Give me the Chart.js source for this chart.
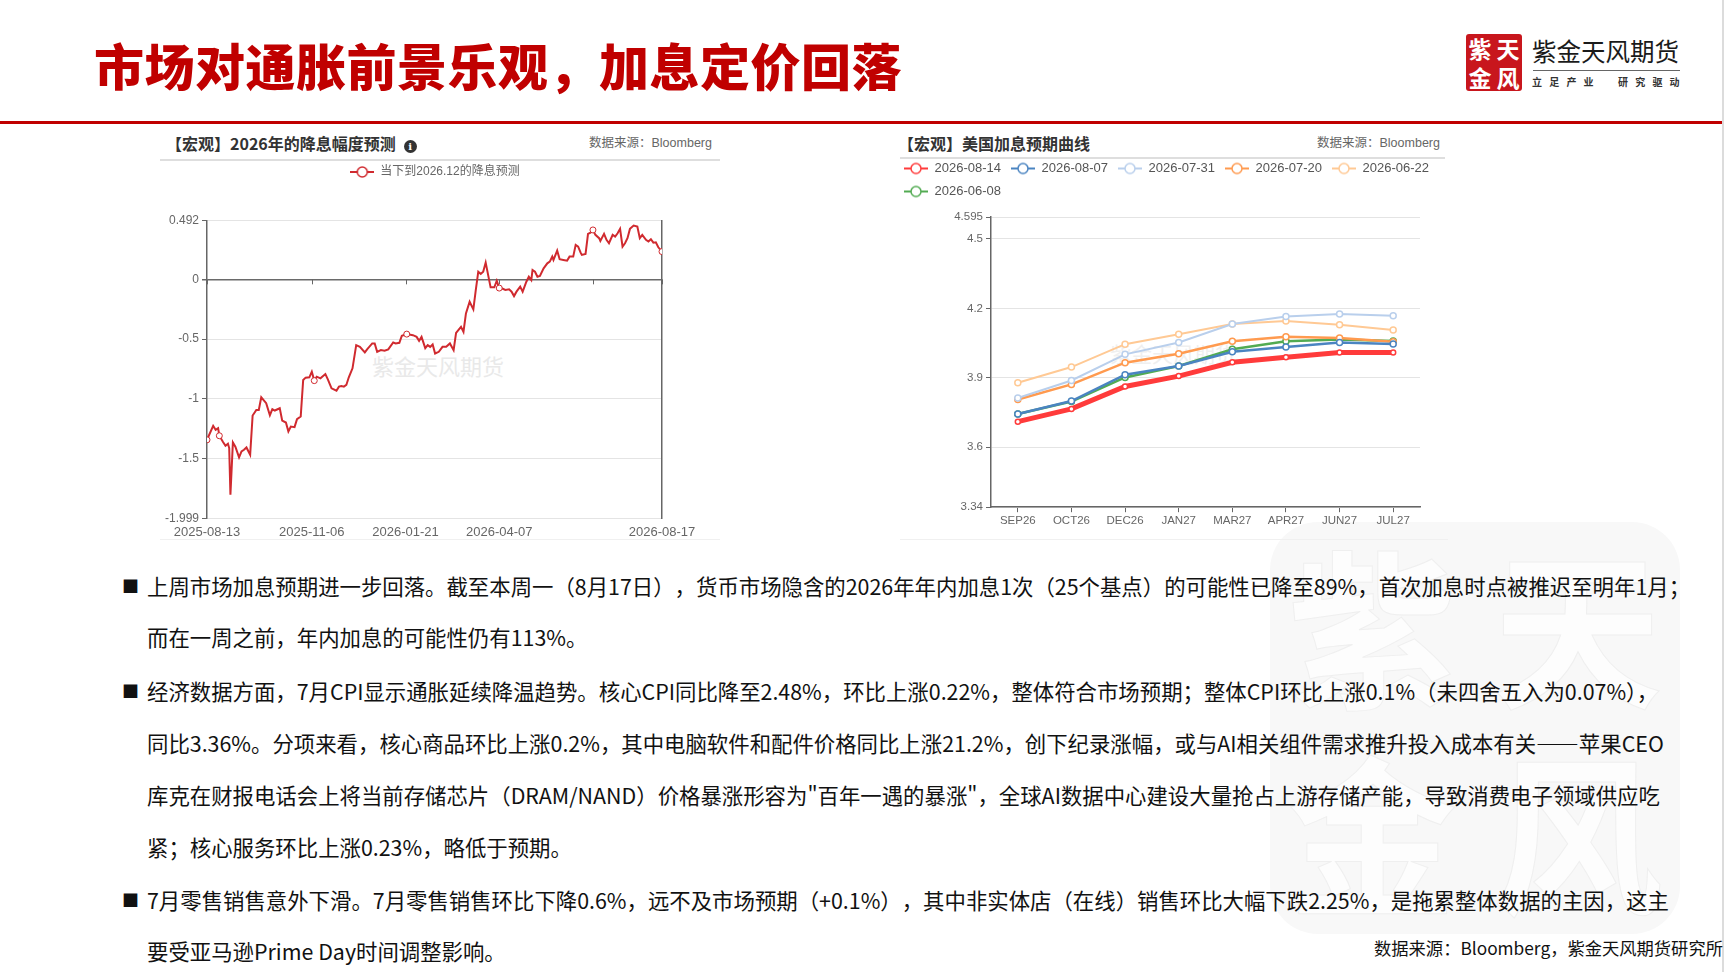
<!DOCTYPE html>
<html lang="zh-CN">
<head>
<meta charset="UTF-8">
<title>市场对通胀前景乐观，加息定价回落</title>
<script src="https://cdn.jsdelivr.net/npm/chart.js"></script>
<style>
  html, body { margin: 0; padding: 0; background: #fff; }
  body { width: 1726px; height: 972px; position: relative; overflow: hidden;
         font-family: "Noto Sans CJK SC", sans-serif; }
  .abs { position: absolute; white-space: nowrap; }
  .title { left: 94px; top: 34px; font-size: 50px; line-height: 60px; font-weight: 900;
           color: #c00000; letter-spacing: 0.5px; }
  .rule { left: 0; top: 120.5px; width: 1722px; height: 3px; background: #c00000; }
  .edge { left: 1722px; top: 0; width: 2px; height: 972px; background: #dcdcdc; }
  .seal { left: 1466px; top: 34px; width: 56px; height: 57px; background: #c8161d; border-radius: 3px;
          display: grid; grid-template-columns: 1fr 1fr; color: #fff; font-size: 23px; line-height: 28px;
          text-align: center; font-weight: 700; }
  .brand { left: 1532px; top: 36px; font-size: 24.5px; line-height: 30px; color: #1a1a1a; }
  .brand-line { left: 1533px; top: 70px; width: 147px; height: 1px; background: #666; }
  .tagline { left: 1532px; top: 74.5px; font-size: 10px; line-height: 14px; letter-spacing: 7.2px;
             color: #333; font-weight: 700; }
  .head { font-size: 16px; line-height: 20px; font-weight: 700; color: #333; }
  .src { font-size: 12.5px; line-height: 20px; color: #666; font-family: "Liberation Sans", "Noto Sans CJK SC", sans-serif; }
  .info { display: inline-block; width: 13px; height: 13px; border-radius: 50%; background: #333; color: #fff;
          font-size: 10px; line-height: 13px; text-align: center; margin-left: 8px; vertical-align: 0px;
          font-family: "DejaVu Serif", serif; font-weight: 700; }
  .hline { height: 2px; background: #dedede; }
  .card-foot { height: 1px; background: #f0f0f0; }
  .wm { color: #e9e9e9; }
  .bigseal { left: 1270px; top: 522px; width: 410px; height: 412px; background: #f8f8f8; border-radius: 48px;
             display: grid; grid-template-columns: 1fr 1fr; color: #fdfdfd; font-size: 170px; line-height: 200px;
             text-align: center; font-weight: 700; -webkit-text-stroke: 1px #efefef; }
  .txt { font-size: 21.4px; line-height: 30px; color: #111; text-spacing-trim: space-all; }
  .txt.trim { text-spacing-trim: normal; }
  .bullet { font-size: 17px; line-height: 30px; color: #111; }
  .foot { left: 1374px; top: 935px; font-size: 17.3px; line-height: 26px; color: #111; }
  canvas { position: absolute; }
</style>
</head>
<body>
  <div class="abs bigseal"><span>紫</span><span>天</span><span>金</span><span>风</span></div>

  <div class="abs title">市场对通胀前景乐观，加息定价回落</div>
  <div class="abs seal"><span>紫</span><span>天</span><span>金</span><span>风</span></div>
  <div class="abs brand">紫金天风期货</div>
  <div class="abs brand-line"></div>
  <div class="abs tagline">立足产业　研究驱动</div>
  <div class="abs rule"></div>
  <div class="abs edge"></div>

  <!-- left chart header -->
  <div class="abs head" style="left:166px; top:133px;">【宏观】2026年的降息幅度预测<span class="info">i</span></div>
  <div class="abs src" style="left:589px; top:133px;">数据来源：Bloomberg</div>
  <div class="abs hline" style="left:160px; top:159px; width:560px;"></div>
  <div class="abs card-foot" style="left:160px; top:539px; width:560px;"></div>
  <div class="abs wm" style="left:372px; top:351px; font-size:22px; line-height:28px;">紫金天风期货</div>

  <!-- right chart header -->
  <div class="abs head" style="left:898px; top:132.5px;">【宏观】美国加息预期曲线</div>
  <div class="abs src" style="left:1317px; top:133px;">数据来源：Bloomberg</div>
  <div class="abs hline" style="left:900px; top:157px; width:545px;"></div>
  <div class="abs card-foot" style="left:900px; top:539px; width:548px;"></div>
  <div class="abs wm" style="left:1110px; top:339px; font-size:21px; line-height:28px; color:#efefef;">紫金天风期货</div>

  <canvas id="cutChart" width="570" height="402" style="left:150px; top:156px;"></canvas>
  <canvas id="curveChart" width="566" height="386" style="left:894px; top:152px;"></canvas>

  <!-- commentary -->
  <div class="abs bullet" style="left:122px; top:570.5px;">■</div>
  <div class="abs txt" style="left:147px; top:570.5px;">上周市场加息预期进一步回落。截至本周一（8月17日），货币市场隐含的2026年年内加息1次（25个基点）的可能性已降至89%，首次加息时点被推迟至明年1月；</div>
  <div class="abs txt" style="left:147px; top:622px;">而在一周之前，年内加息的可能性仍有113%。</div>
  <div class="abs bullet" style="left:122px; top:675.5px;">■</div>
  <div class="abs txt trim" style="left:147px; top:675.5px;">经济数据方面，7月CPI显示通胀延续降温趋势。核心CPI同比降至2.48%，环比上涨0.22%，整体符合市场预期；整体CPI环比上涨0.1%（未四舍五入为0.07%），</div>
  <div class="abs txt" style="left:147px; top:727.5px;">同比3.36%。分项来看，核心商品环比上涨0.2%，其中电脑软件和配件价格同比上涨21.2%，创下纪录涨幅，或与AI相关组件需求推升投入成本有关——苹果CEO</div>
  <div class="abs txt" style="left:147px; top:780px;">库克在财报电话会上将当前存储芯片（DRAM/NAND）价格暴涨形容为"百年一遇的暴涨"，全球AI数据中心建设大量抢占上游存储产能，导致消费电子领域供应吃</div>
  <div class="abs txt" style="left:147px; top:832px;">紧；核心服务环比上涨0.23%，略低于预期。</div>
  <div class="abs bullet" style="left:122px; top:884.5px;">■</div>
  <div class="abs txt" style="left:147px; top:884.5px;">7月零售销售意外下滑。7月零售销售环比下降0.6%，远不及市场预期（+0.1%），其中非实体店（在线）销售环比大幅下跌2.25%，是拖累整体数据的主因，这主</div>
  <div class="abs txt" style="left:147px; top:936px;">要受亚马逊Prime Day时间调整影响。</div>
  <div class="abs foot">数据来源：Bloomberg，紫金天风期货研究所</div>

<script>
// ---- left chart: implied 2026 cuts ----
const cutDates = [
  '2025-08-13','2025-08-18','2025-08-20','2025-08-22','2025-08-23','2025-08-26','2025-08-28','2025-08-30',
  '2025-08-31','2025-09-01','2025-09-03','2025-09-05','2025-09-08','2025-09-10','2025-09-12','2025-09-14',
  '2025-09-17','2025-09-19','2025-09-22','2025-09-24','2025-09-26','2025-09-30','2025-10-03','2025-10-05',
  '2025-10-07','2025-10-11','2025-10-13','2025-10-16','2025-10-18','2025-10-20','2025-10-23','2025-10-25',
  '2025-10-28','2025-10-30','2025-11-01','2025-11-04','2025-11-06','2025-11-08','2025-11-10','2025-11-13',
  '2025-11-17','2025-11-19','2025-11-22','2025-11-26','2025-11-28','2025-11-30','2025-12-02','2025-12-04',
  '2025-12-06','2025-12-09','2025-12-12','2025-12-15','2025-12-19','2025-12-21','2025-12-25','2025-12-27',
  '2025-12-29','2026-01-01','2026-01-04','2026-01-07','2026-01-11','2026-01-13','2026-01-16','2026-01-18',
  '2026-01-22','2026-01-27','2026-01-30','2026-02-01','2026-02-03','2026-02-06','2026-02-08','2026-02-10',
  '2026-02-12','2026-02-14','2026-02-17','2026-02-20','2026-02-23','2026-02-26','2026-03-01','2026-03-03',
  '2026-03-07','2026-03-09','2026-03-11','2026-03-14','2026-03-17','2026-03-19','2026-03-21','2026-03-23',
  '2026-03-25','2026-03-27','2026-03-31','2026-04-03','2026-04-05','2026-04-07','2026-04-09','2026-04-12',
  '2026-04-15','2026-04-17','2026-04-19','2026-04-21','2026-04-24','2026-04-26','2026-04-29','2026-05-01',
  '2026-05-03','2026-05-04','2026-05-06','2026-05-08','2026-05-10','2026-05-13','2026-05-16','2026-05-18',
  '2026-05-20','2026-05-21','2026-05-24','2026-05-26','2026-05-29','2026-06-01','2026-06-03','2026-06-06',
  '2026-06-08','2026-06-10','2026-06-12','2026-06-13','2026-06-16','2026-06-18','2026-06-20','2026-06-22',
  '2026-06-24','2026-06-27','2026-06-28','2026-07-01','2026-07-03','2026-07-05','2026-07-08','2026-07-10',
  '2026-07-12','2026-07-14','2026-07-16','2026-07-18','2026-07-20','2026-07-22','2026-07-25','2026-07-28',
  '2026-07-30','2026-08-01','2026-08-04','2026-08-06','2026-08-08','2026-08-10','2026-08-12','2026-08-14',
  '2026-08-17'
];
const cutValues = [
  -1.342,-1.225,-1.258,-1.244,-1.308,-1.36,-1.392,-1.375,
  -1.411,-1.80,-1.364,-1.40,-1.489,-1.439,-1.425,-1.406,
  -1.467,-1.139,-1.092,-1.092,-0.986,-1.036,-1.136,-1.086,
  -1.097,-1.078,-1.181,-1.197,-1.272,-1.231,-1.236,-1.169,
  -1.147,-0.842,-0.822,-0.819,-0.772,-0.847,-0.814,-0.828,
  -0.792,-0.836,-0.911,-0.931,-0.897,-0.892,-0.897,-0.883,
  -0.819,-0.744,-0.55,-0.564,-0.611,-0.583,-0.536,-0.536,
  -0.606,-0.592,-0.597,-0.586,-0.528,-0.536,-0.531,-0.472,
  -0.458,-0.467,-0.481,-0.514,-0.481,-0.575,-0.55,-0.565,
  -0.545,-0.62,-0.606,-0.564,-0.564,-0.536,-0.592,-0.447,
  -0.397,-0.439,-0.285,-0.187,-0.251,-0.089,0.064,0.045,
  0.064,0.14,-0.067,-0.067,-0.011,-0.073,-0.075,-0.089,
  -0.084,-0.103,-0.14,-0.103,-0.061,-0.103,-0.02,0.022,
  -0.006,0.078,0.064,0.022,0.028,0.092,0.134,0.148,
  0.19,0.162,0.24,0.168,0.162,0.156,0.19,0.19,
  0.288,0.274,0.223,0.204,0.212,0.38,0.391,0.413,
  0.372,0.344,0.321,0.38,0.33,0.302,0.372,0.358,
  0.385,0.422,0.274,0.302,0.344,0.422,0.45,0.441,
  0.344,0.372,0.33,0.316,0.335,0.307,0.31,0.268,
  0.232
];
const cutMarkerDates = ['2025-08-13','2025-08-23','2025-11-08','2026-01-22','2026-04-07','2026-06-22','2026-08-17'];
const cutTickDates = ['2025-08-13','2025-11-06','2026-01-21','2026-04-07','2026-06-22','2026-08-17'];
const cutUnlabelled = ['2026-06-22'];
const cutYTicks = [-1.999, -1.5, -1, -0.5, 0, 0.492];
const cutLabel = '当下到2026.12的降息预测';

// ---- right chart: implied policy rate path ----
const tenors = ['SEP26','OCT26','DEC26','JAN27','MAR27','APR27','JUN27','JUL27'];
const curveNames = ['2026-08-14','2026-08-07','2026-07-31','2026-07-20','2026-06-22','2026-06-08'];
const curve0814 = [3.710, 3.765, 3.862, 3.907, 3.967, 3.988, 4.009, 4.009];
const curve0807 = [3.743, 3.799, 3.913, 3.951, 4.012, 4.033, 4.052, 4.046];
const curve0731 = [3.812, 3.888, 4.001, 4.052, 4.132, 4.165, 4.175, 4.168];
const curve0720 = [3.806, 3.871, 3.965, 4.004, 4.058, 4.077, 4.072, 4.055];
const curve0622 = [3.878, 3.946, 4.045, 4.088, 4.132, 4.145, 4.129, 4.106];
const curve0608 = [3.743, 3.797, 3.901, 3.951, 4.023, 4.058, 4.065, 4.059];
const curveYTicks = [3.34, 3.6, 3.9, 4.2, 4.5, 4.595];

Chart.defaults.font.family = "'Liberation Sans', 'Noto Sans CJK SC', sans-serif";
Chart.defaults.color = '#666';

const DAY = 86400000;
const t0 = Date.parse(cutDates[0]);
const dayOf = d => Math.round((Date.parse(d) - t0) / DAY);
const dateOf = v => new Date(t0 + v * DAY).toISOString().slice(0, 10);

function legendIcon(color, r) {
  const c = document.createElement('canvas');
  c.width = 24; c.height = 14;
  const g = c.getContext('2d');
  g.strokeStyle = color;
  g.lineWidth = 2;
  g.beginPath(); g.moveTo(0, 7); g.lineTo(24, 7); g.stroke();
  g.beginPath(); g.arc(12, 7, r, 0, Math.PI * 2);
  g.fillStyle = '#fff'; g.fill();
  g.lineWidth = 1.5; g.stroke();
  return c;
}

function iconLabels(chart) {
  const items = Chart.defaults.plugins.legend.labels.generateLabels(chart);
  return items.map(it => {
    const ds = chart.data.datasets[it.datasetIndex];
    it.pointStyle = legendIcon(ds.borderColor, 5);
    return it;
  });
}

// pushes the plot down below the legend by a fixed amount
const legendGap = {
  id: 'legendGap',
  beforeInit(chart, args, opts) {
    const fit = chart.legend.fit;
    chart.legend.fit = function () {
      fit.call(this);
      this.height += opts.extra || 0;
    };
  }
};

// small ticks hanging from the zero line (axis sits on zero)
const zeroTicks = {
  id: 'zeroTicks',
  beforeDatasetsDraw(chart) {
    const { ctx, scales: { x, y } } = chart;
    const y0 = y.getPixelForValue(0);
    ctx.save();
    ctx.strokeStyle = '#666';
    ctx.lineWidth = 1;
    x.ticks.forEach(t => {
      const px = Math.round(x.getPixelForValue(t.value)) + 0.5;
      ctx.beginPath();
      ctx.moveTo(px, y0);
      ctx.lineTo(px, y0 + 5);
      ctx.stroke();
    });
    ctx.restore();
  }
};

const markerDays = cutMarkerDates.map(dayOf);
const cutPoints = cutDates.map((d, i) => ({ x: dayOf(d), y: cutValues[i] }));

new Chart(document.getElementById('cutChart'), {
  type: 'line',
  data: {
    datasets: [{
      label: cutLabel,
      data: cutPoints,
      borderColor: '#d02a2f',
      backgroundColor: '#fff',
      borderWidth: 2,
      tension: 0,
      pointRadius: c => markerDays.includes(c.raw && c.raw.x) ? 3 : 0,
      pointBorderWidth: 1,
      pointBackgroundColor: '#fff',
      pointBorderColor: '#d02a2f'
    }]
  },
  options: {
    responsive: false,
    animation: false,
    layout: { padding: { left: 0, right: 0, top: 0, bottom: 12 } },
    plugins: {
      legend: {
        align: 'center',
        labels: { usePointStyle: true, pointStyleWidth: 24, font: { size: 12 }, color: '#666',
                  padding: 10, generateLabels: iconLabels }
      },
      legendGap: { extra: 32.5 },
      tooltip: { enabled: false }
    },
    scales: {
      x: {
        type: 'linear',
        min: 0,
        max: dayOf(cutDates[cutDates.length - 1]),
        afterBuildTicks: s => { s.ticks = cutTickDates.map(d => ({ value: dayOf(d) })); },
        grid: { display: false, drawTicks: false },
        border: { display: false },
        ticks: {
          autoSkip: false, maxRotation: 0, padding: 6, font: { size: 13 }, color: '#666',
          callback: v => cutUnlabelled.includes(dateOf(v)) ? '' : dateOf(v)
        }
      },
      y: {
        min: cutYTicks[0],
        max: cutYTicks[cutYTicks.length - 1],
        afterBuildTicks: s => { s.ticks = cutYTicks.map(v => ({ value: v })); },
        afterFit: s => { s.width = 57; },
        grid: {
          color: c => c.tick && c.tick.value === 0 ? '#6a6a6a' : '#e4e4e4',
          lineWidth: c => c.tick && c.tick.value === 0 ? 1.5 : 1,
          tickColor: '#666', tickLength: 5
        },
        border: { color: '#666', width: 1.5 },
        ticks: { padding: 3, font: { size: 12 }, color: '#666', callback: v => String(v) }
      },
      yRight: {
        position: 'right',
        grid: { display: false, drawTicks: false },
        ticks: { display: false },
        border: { color: '#666', width: 1.5 },
        afterFit: s => { s.width = 58; }
      }
    }
  },
  plugins: [legendGap, zeroTicks]
});

const curveSeries = [curve0814, curve0807, curve0731, curve0720, curve0622, curve0608];
const curveColors = ['#ff3b3b', '#4a84c1', '#b9cfec', '#ff9a4f', '#ffc994', '#52ab52'];
const curveWidths = [5, 2.5, 2, 2.5, 2, 2.5];

new Chart(document.getElementById('curveChart'), {
  type: 'line',
  data: {
    labels: tenors,
    datasets: curveSeries.map((vals, i) => ({
      label: curveNames[i],
      data: vals,
      borderColor: curveColors[i],
      backgroundColor: '#fff',
      borderWidth: curveWidths[i],
      tension: 0,
      pointRadius: i === 0 ? 2.5 : 3,
      pointBorderWidth: 1.5,
      pointBackgroundColor: '#fff',
      pointBorderColor: curveColors[i]
    }))
  },
  options: {
    responsive: false,
    animation: false,
    layout: { padding: { left: 0, right: 0, top: 0, bottom: 8 } },
    plugins: {
      legend: {
        align: 'start',
        labels: { usePointStyle: true, pointStyleWidth: 24, font: { size: 13 }, color: '#555',
                  padding: 10, generateLabels: iconLabels }
      },
      legendGap: { extra: 9 },
      tooltip: { enabled: false }
    },
    scales: {
      x: {
        type: 'category',
        offset: true,
        grid: { drawOnChartArea: false, drawTicks: true, tickLength: 5, tickColor: '#666', offset: false },
        border: { color: '#666', width: 1.5 },
        ticks: { padding: 2, font: { size: 11.5 }, color: '#666', maxRotation: 0, autoSkip: false }
      },
      y: {
        min: curveYTicks[0],
        max: curveYTicks[curveYTicks.length - 1],
        afterBuildTicks: s => { s.ticks = curveYTicks.map(v => ({ value: v })); },
        afterFit: s => { s.width = 97; },
        grid: { color: '#e4e4e4', tickColor: '#666', tickLength: 5 },
        border: { color: '#666', width: 1.5 },
        ticks: { padding: 3, font: { size: 11.5 }, color: '#666', callback: v => String(v) }
      },
      yRight: {
        position: 'right',
        grid: { display: false, drawTicks: false },
        ticks: { display: false },
        border: { display: false },
        afterFit: s => { s.width = 40; }
      }
    }
  },
  plugins: [legendGap]
});
</script>
</body>
</html>
